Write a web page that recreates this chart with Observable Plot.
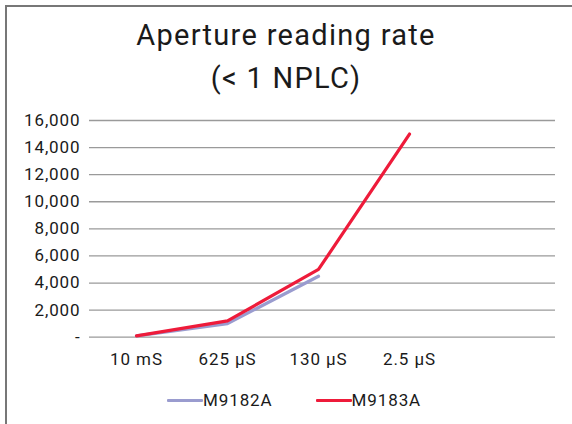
<!DOCTYPE html>
<html>
<head>
<meta charset="utf-8">
<script src="https://cdn.jsdelivr.net/npm/d3@7"></script>
<script src="https://cdn.jsdelivr.net/npm/@observablehq/plot@0.6"></script>
<style>
  html, body { margin: 0; padding: 0; background: #fff; }
  #wrap { position: relative; width: 572px; height: 424px; overflow: hidden; background: #fff; font-family: Roboto, sans-serif; color: #1a1a1a; }
  #frame { position: absolute; left: 5px; top: 5px; width: 600px; height: 460px; border-left: 2px solid #777; border-top: 2px solid #777; box-sizing: border-box; }
  .title { position: absolute; left: 0; width: 572px; text-align: center; font-size: 29px; letter-spacing: 1.3px; line-height: 1; }
  #chart { position: absolute; left: 0; top: 100px; }
  #chart svg text { letter-spacing: 0.9px; }
  #legend { position: absolute; top: 390px; left: 167px; display: flex; align-items: center; font-size: 17px; letter-spacing: 0.9px; }
  .item { display: flex; align-items: center; }
  .sw { width: 36px; height: 3px; border-radius: 1px; }
</style>
</head>
<body>
<div id="wrap">
  <div id="frame"></div>
  <div class="title" id="t1" style="top:21px"></div>
  <div class="title" id="t2" style="top:64px"></div>
  <div id="chart"></div>
  <div id="legend"></div>
</div>
<script>
const titleLines = ["Aperture reading rate", "(< 1 NPLC)"];
const categories = ["10 mS", "625 µS", "130 µS", "2.5 µS"];
const seriesNames = ["M9182A", "M9183A"];
const m9182a = [100, 1000, 4500];
const m9183a = [100, 1200, 5000, 15000];
const yTicks = [0, 2000, 4000, 6000, 8000, 10000, 12000, 14000, 16000];
const colors = ["#9a9ccf", "#ee1b3a"];

document.getElementById("t1").textContent = titleLines[0];
document.getElementById("t2").textContent = titleLines[1];

const rows = [];
m9182a.forEach((v, i) => rows.push({cat: categories[i], value: v, series: seriesNames[0]}));
m9183a.forEach((v, i) => rows.push({cat: categories[i], value: v, series: seriesNames[1]}));

const chart = Plot.plot({
  width: 572,
  height: 280,
  marginLeft: 89,
  marginRight: 17,
  marginTop: 20,
  marginBottom: 43.3,
  style: {fontFamily: "Roboto, sans-serif", fontSize: "17px", color: "#1a1a1a", background: "transparent"},
  x: {type: "point", domain: [...categories, " "], range: [89, 546], padding: 0.5, label: null},
  y: {domain: [0, 16000], label: null},
  marks: [
    Plot.ruleY(yTicks, {stroke: "#9a9a9a", strokeWidth: 1.3}),
    Plot.axisY({ticks: yTicks, tickSize: 0, tickPadding: 9, label: null, fontSize: 17,
      tickFormat: d => d === 0 ? "-" : d3.format(",")(d)}),
    Plot.axisX({ticks: categories, tickSize: 0, tickPadding: 16, label: null, fontSize: 17}),
    Plot.line(rows.filter(d => d.series === seriesNames[0]), {x: "cat", y: "value", stroke: colors[0], strokeWidth: 3.2, strokeLinejoin: "round"}),
    Plot.line(rows.filter(d => d.series === seriesNames[1]), {x: "cat", y: "value", stroke: colors[1], strokeWidth: 3.2, strokeLinejoin: "round"})
  ]
});
document.getElementById("chart").appendChild(chart);

const legend = document.getElementById("legend");
seriesNames.forEach((name, i) => {
  const it = document.createElement("div");
  it.className = "item";
  if (i > 0) it.style.marginLeft = "43px";
  const sw = document.createElement("div");
  sw.className = "sw";
  sw.style.background = colors[i];
  const tx = document.createElement("span");
  tx.textContent = name;
  it.appendChild(sw);
  it.appendChild(tx);
  legend.appendChild(it);
});
</script>
</body>
</html>
